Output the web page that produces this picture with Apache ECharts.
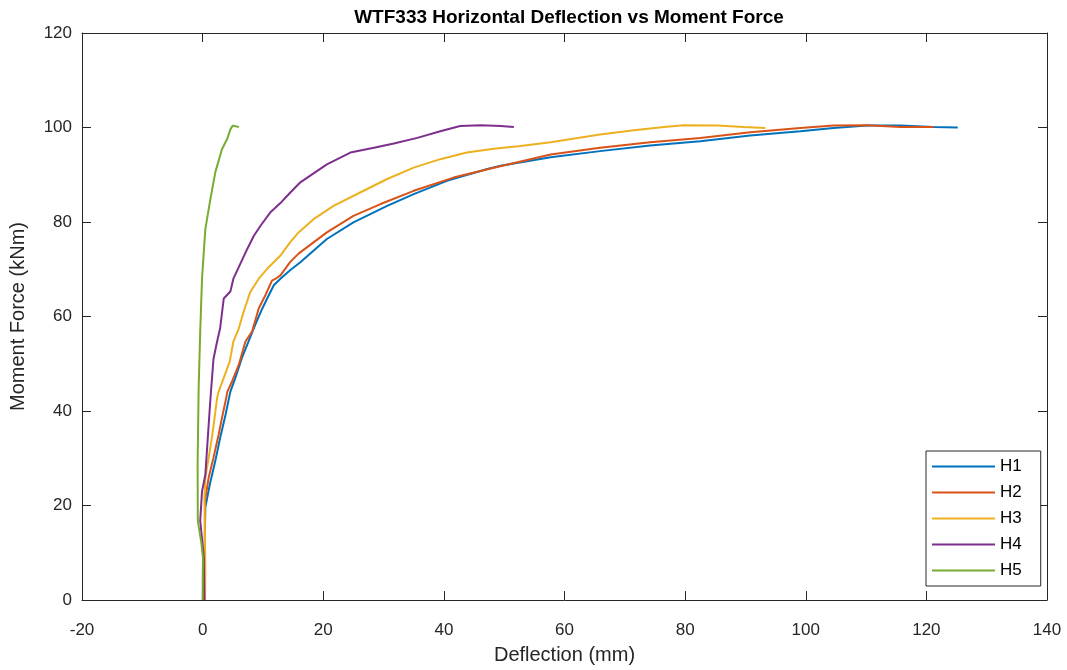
<!DOCTYPE html>
<html>
<head>
<meta charset="utf-8">
<script src="https://cdn.jsdelivr.net/npm/echarts@6/dist/echarts.min.js"></script>
<style>
  html, body { margin: 0; padding: 0; background: #fff; }
  #chart { width: 1067px; height: 670px; }
</style>
</head>
<body>
<div id="chart"></div>
<script>
// values (deflection mm, moment kNm)
const seriesNames = ['H1', 'H2', 'H3', 'H4', 'H5'];

const h1X = [0.3, 0.4, 0.45, 1.2, 2.1, 2.9, 3.8, 4.6, 5.4, 6.5, 7.6, 8.7, 9.9, 10.7, 11.8, 12.9, 14.5, 16.2, 20.6, 25, 30.6, 35, 40.5, 47.2, 49.4, 57.7, 65.9, 74.2, 82.5, 90.8, 99.1, 104.6, 110.2, 115.7, 121.2, 125.2];
const h1Y = [0, 16, 19.6, 24.5, 29.4, 34.3, 39.2, 44.1, 46.9, 51.2, 54.7, 58.2, 61.7, 63.8, 66.6, 68, 69.8, 71.5, 76.4, 79.9, 83.4, 85.9, 88.7, 91.2, 91.9, 93.7, 95, 96.2, 97.1, 98.3, 99.2, 99.9, 100.4, 100.4, 100.1, 100];

const h2X = [0.2, 0.3, 0.4, 1, 1.8, 2.65, 3.2, 3.9, 4.1, 4.9, 6, 7.1, 8.2, 9.3, 10.4, 11.5, 12.1, 12.9, 14.5, 15.9, 20.6, 25, 29.5, 35, 41.6, 48.3, 57.7, 65.9, 74.2, 82.5, 90.8, 99.1, 104.6, 110.2, 115.7, 121.2];
const h2Y = [0, 3.4, 21, 25.9, 30.1, 35, 38.5, 42.7, 44.1, 46.3, 49.8, 54.7, 56.8, 61.7, 64.5, 67.6, 68, 68.7, 71.5, 73.3, 77.8, 81.3, 83.8, 86.6, 89.4, 91.5, 94.3, 95.7, 96.9, 97.8, 99, 99.9, 100.4, 100.5, 100.1, 100.1];

const h3X = [0.4, 0.45, 0.3, 0.45, 1, 1.7, 2.4, 2.65, 3.5, 4.5, 5.1, 6, 6.8, 7.9, 9.3, 10.7, 12.9, 14.5, 15.9, 18.4, 21.7, 26.2, 30.6, 35, 39.4, 43.8, 48.3, 52.7, 57.7, 65.9, 71.5, 76.5, 79.8, 85.3, 89.7, 93.3];
const h3Y = [0, 6.3, 21.7, 25.9, 30, 35.8, 42.7, 44.1, 47, 50.5, 54.7, 57.5, 61, 65.2, 68, 70.1, 72.9, 75.7, 77.8, 80.6, 83.4, 86.3, 89.1, 91.5, 93.3, 94.7, 95.5, 96.1, 96.9, 98.5, 99.4, 100.1, 100.5, 100.4, 100.1, 99.9];

const h4X = [0.3, 0.2, -0.4, -0.1, 0.45, 1, 1.3, 1.8, 2.4, 2.9, 3.5, 4.6, 5.1, 7.4, 8.5, 9.6, 11.2, 12.9, 14.5, 16.2, 20.6, 24.5, 28.4, 31.7, 35.6, 39.4, 42.7, 46.1, 49.4, 51.6];
const h4Y = [0, 9, 16.8, 23, 26.5, 37, 42.7, 51, 54.7, 57.5, 63.8, 65.3, 68, 74.3, 77.1, 79.2, 82, 84, 86.2, 88.4, 92.2, 94.7, 95.7, 96.6, 97.8, 99.2, 100.3, 100.5, 100.3, 100.1];

const h5X = [0, 0.05, -0.2, -0.8, -0.83, -0.66, -0.4, -0.1, 0.45, 1.28, 2.1, 3.2, 4.05, 4.6, 5, 6];
const h5Y = [0, 9, 12, 16.8, 28.7, 44.8, 56.8, 68, 78.5, 84.8, 90.5, 95.4, 97.5, 99.6, 100.4, 100.1];

const xTicks = { min: -20, max: 140, interval: 20 };
const yTicks = { min: 0, max: 120, interval: 20 };

const COLORS = ['#0072BD', '#D95319', '#EDB120', '#7E2F8E', '#77AC30'];
const FONT = "'Liberation Sans', Arial, Helvetica, sans-serif";
const INK = '#262626';

const allX = [h1X, h2X, h3X, h4X, h5X];
const allY = [h1Y, h2Y, h3Y, h4Y, h5Y];

const series = seriesNames.map((name, i) => ({
  name,
  type: 'line',
  showSymbol: false,
  symbol: 'none',
  data: allX[i].map((x, k) => [x, allY[i][k]]),
  lineStyle: { color: COLORS[i], width: 2 },
  itemStyle: { color: COLORS[i] },
  z: 2 + i,
}));

const chart = echarts.init(document.getElementById('chart'));

// MATLAB-style box: ticks point inward on all four sides
const tickInside = { show: true, inside: true, length: 9, lineStyle: { color: INK } };
const boxLine = { show: true, onZero: false, lineStyle: { color: INK, width: 1 } };

chart.setOption({
  backgroundColor: '#fff',
  animation: false,
  textStyle: { fontFamily: FONT },
  title: {
    text: 'WTF333 Horizontal Deflection vs Moment Force',
    left: 564,
    top: 3,
    textAlign: 'center',
    textStyle: { fontFamily: FONT, fontSize: 19, fontWeight: 'bold', color: '#000' },
  },
  grid: { left: 82, right: 20, top: 33, bottom: 67, containLabel: false },
  legend: {
    data: seriesNames,
    orient: 'vertical',
    left: 926,
    top: 451,
    icon: 'rect',
    itemWidth: 63,
    itemHeight: 2,
    itemGap: 9,
    padding: [7, 19, 7, 6],
    borderColor: INK,
    borderWidth: 1,
    backgroundColor: '#fff',
    textStyle: { fontFamily: FONT, fontSize: 17, color: '#000' },
  },
  xAxis: [
    {
      type: 'value',
      ...xTicks,
      position: 'bottom',
      name: 'Deflection (mm)',
      nameLocation: 'middle',
      nameGap: 45,
      nameTextStyle: { fontFamily: FONT, fontSize: 20, color: INK },
      axisLine: boxLine,
      axisTick: tickInside,
      splitLine: { show: false },
      axisLabel: { fontFamily: FONT, fontSize: 17, color: INK, margin: 22 },
    },
    {
      type: 'value',
      ...xTicks,
      position: 'top',
      axisLine: boxLine,
      axisTick: tickInside,
      splitLine: { show: false },
      axisLabel: { show: false },
    },
  ],
  yAxis: [
    {
      type: 'value',
      ...yTicks,
      position: 'left',
      name: 'Moment Force (kNm)',
      nameLocation: 'middle',
      nameGap: 54,
      nameTextStyle: { fontFamily: FONT, fontSize: 20, color: INK },
      axisLine: boxLine,
      axisTick: tickInside,
      splitLine: { show: false },
      axisLabel: { fontFamily: FONT, fontSize: 17, color: INK, margin: 10 },
    },
    {
      type: 'value',
      ...yTicks,
      position: 'right',
      axisLine: boxLine,
      axisTick: tickInside,
      splitLine: { show: false },
      axisLabel: { show: false },
    },
  ],
  series,
});
</script>
</body>
</html>
